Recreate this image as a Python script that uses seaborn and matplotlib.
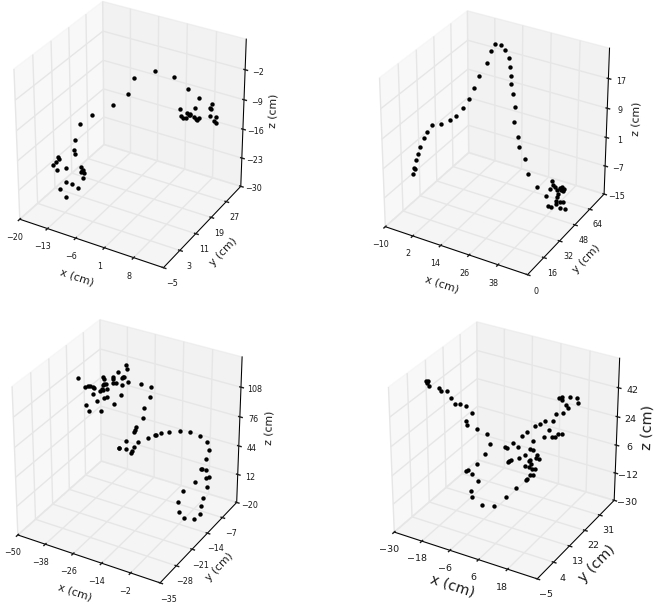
import matplotlib
matplotlib.use('Agg')
import matplotlib.pyplot as plt
import seaborn as sns

sns.set_theme()
plt.style.use('classic')
MARK = sns.color_palette(['#000000'])[0]

# Panel 1
x1 = [-18.1,-17.3,-16.6,-16.4,-17.0,-14.8,-11.0,-10.8,-10.6,-10.2,-11.0,-10.6,-14.8,-13.4,-11.7,-16.3,-14.8,-13.6,-13.8,-13.4,-14.3,-11.2,-8.7,-5.1,-6.1,-1.0,2.2,5.5,8.3,3.3,3.6,4.0,4.9,5.0,5.4,5.7,5.7,6.7,6.9,7.1,7.4,7.8,10.5,11.0,10.7,10.5,12.0,11.6,11.9]
y1 = [7]*17 + [9]*3 + [13]*2 + [18]*2 + [23]*2 + [26]*3 + [27]*20
z1 = [-21.9,-21.0,-19.5,-19.9,-22.8,-21.5,-20.1,-21.1,-20.8,-21.4,-21.4,-22.8,-24.9,-25.1,-25.4,-27.1,-28.6,-18.9,-17.8,-15.3,-13.6,-10.5,-9.6,-6.2,-4.8,-1.7,-3.5,-5.4,-6.6,-11.0,-12.7,-12.9,-12.8,-11.6,-11.9,-11.6,-11.9,-11.9,-9.9,-12.4,-12.4,-11.9,-8.7,-7.7,-8.9,-10.6,-10.6,-11.5,-11.9]
# Panel 2
x2 = [-1.0,-0.6,-0.3,0.5,1.3,2.4,4.0,5.2,3.6,7.5,11.3,14.0,11.4,14.0,16.1,18.3,21.2,17.6,19.5,21.9,23.6,25.3,25.7,26.2,25.9,27.0,27.7,27.4,27.2,27.8,30.3,31.7,35.4,40.0,40.7,41.3,39.2,42.4,43.6,44.4,45.1,44.9,43.8,42.7,42.2,37.7,41.9,42.1,43.5,44.7,38.5,40.0,43.5,45.6]
y2 = [8]*8 + [16]*4 + [28]*5 + [40]*11 + [44]*5 + [48]*21
z2 = [-0.8,1.0,0.8,3.5,5.2,7.4,9.9,11.9,11.4,12.5,14.2,15.6,14.3,17.2,20.4,23.9,27.7,27.5,29.7,29.9,28.8,27.1,24.9,22.7,20.4,18.2,14.8,10.7,5.8,3.1,0.4,-3.4,-6.4,-4.9,-5.9,-6.2,-7.3,-6.8,-5.9,-5.7,-6.0,-6.5,-6.5,-7.9,-8.9,-9.5,-10.0,-10.9,-9.9,-9.6,-12.2,-12.1,-11.6,-11.4]
# Panel 3
x3 = [-41.3,-38.7,-37.4,-36.2,-35.3,-34.8,-35.3,-38.2,-37.1,-33.3,-31.7,-32.0,-31.4,-30.9,-31.0,-30.6,-30.9,-30.3,-29.5,-29.0,-30.3,-29.1,-26.5,-26.6,-26.5,-25.3,-24.6,-22.9,-22.3,-21.9,-22.8,-21.2,-20.8,-20.4,-23.5,-26.4,-16.5,-12.4,-12.8,-15.1,-15.8,-18.5,-19.0,-19.5,-22.6,-25.9,-25.6,-22.6,-19.4,-20.2,-20.5,-17.5,-15.2,-12.5,-12.1,-10.0,-6.6,-4.0,0.2,4.2,7.2,8.0,7.0,4.9,5.2,6.8,7.1,8.4,6.1,11.2,1.5,9.5,-0.7,8.9,-0.4,8.6,2.0,6.1]
y3 = [-17.5]*36 + [-16]*16 + [-14]*5 + [-12]*11 + [-16]*10
z3 = [117.9,110.2,112.2,113.7,113.0,111.9,105.9,92.0,86.3,99.8,90.3,110.7,113.9,112.5,126.9,124.4,118.6,119.7,119.9,115.6,105.2,107.1,130.0,127.5,123.4,124.3,135.9,130.8,132.2,133.2,123.6,145.8,142.3,129.1,112.9,100.9,126.6,126.0,115.3,102.3,91.2,79.1,75.6,73.0,61.2,51.1,51.3,52.1,56.8,51.4,49.4,63.7,65.3,70.2,71.3,74.6,78.3,76.5,78.6,77.6,73.9,65.8,55.0,42.4,42.7,42.5,34.6,36.1,39.0,36.9,25.5,23.9,11.0,14.2,0.5,5.4,-4.2,-2.7]
# Panel 4
x4 = [-30.0,-29.1,-29.4,-28.7,-24.5,-23.8,-20.9,-19.4,-17.8,-15.5,-13.1,-8.2,-10.7,-10.5,-6.0,-2.0,-0.9,-2.9,-3.1,-7.8,-7.0,-5.4,-2.9,-5.6,-5.4,-1.3,3.9,8.9,13.0,9.6,10.1,11.1,12.5,12.2,13.4,10.9,9.1,11.7,10.8,11.2,9.1,6.6,3.3,2.6,1.9,14.2,14.7,13.6,12.4,11.1,6.2,0.9,1.5,4.1,3.3,5.5,7.9,8.5,10.7,12.9,15.9,14.3,12.6,15.6,16.8,18.0,19.9,11.5,14.4,16.4,15.4,14.0,12.8,13.9,17.1,19.9,20.5]
y4 = [13]*11 + [10]*7 + [6]*11 + [16]*25 + [22]*13 + [30]*10
z4 = [47.1,47.6,45.9,44.3,45.2,43.4,44.4,40.9,37.7,39.0,38.8,39.2,33.0,30.7,30.3,29.2,23.5,16.2,14.0,7.6,8.5,7.0,3.5,-4.3,-7.7,-11.0,-8.9,-1.3,6.6,-0.9,-0.0,3.4,4.0,7.2,7.8,8.3,7.7,10.6,11.8,12.8,14.8,11.6,8.9,8.2,7.2,17.0,14.8,14.7,19.1,19.4,18.7,16.0,16.1,20.3,18.0,21.8,17.2,26.8,29.0,31.6,32.8,26.6,21.3,23.0,23.5,25.9,26.7,27.6,29.4,33.4,35.0,37.3,38.3,39.3,40.6,40.7,37.9]

xticks = [[-20,-13,-6,1,8],[-10,2,14,26,38],[-50,-38,-26,-14,-2],[-30,-18,-6,6,18]]
yticks = [[-5,3,11,19,27],[0,16,32,48,64],[-35,-28,-21,-14,-7],[-5,4,13,22,31]]
zticks = [[-30,-23,-16,-9,-2],[-15,-7,1,9,17],[-20,12,44,76,108],[-30,-12,6,24,42]]
limits = [[(-20,15),(-5,35),(-30,5)],[(-10,50),(0,80),(-15,25)],[(-50,10),(-35,0),(-20,140)],[(-30,30),(-5,40),(-30,60)]]
# left, top, width, height in pixels
rects = [(-25.5,-24.5,306.7,317.6),(340.5,-14.9,303.6,314.8),(-27.0,294.0,303.7,314.0),(349.2,296.8,305.2,306.6)]
tick_sizes = [5.8,5.8,5.8,6.8]
label_sizes = [7.8,7.8,7.8,10.3]
xpads = [-3.5,-3.5,-3.5,-5]
W, H = 664, 610

fig = plt.figure(figsize=(W/100, H/100), dpi=100, facecolor='white')
series = [(x1,y1,z1),(x2,y2,z2),(x3,y3,z3),(x4,y4,z4)]
for i,(xs,ys,zs) in enumerate(series):
    l,t,w,h = rects[i]
    ax = fig.add_axes([l/W, 1-(t+h)/H, w/W, h/H], projection='3d')
    ax.set_box_aspect((1,1,1), zoom=1/1.10027)
    ax.apply_aspect = lambda position=None: None
    ax.view_init(30,-60)
    ax.scatter(xs, ys, zs, color=MARK, s=10, depthshade=False, linewidths=0)
    ax.set_xticks(xticks[i]); ax.set_yticks(yticks[i]); ax.set_zticks(zticks[i])
    ax.set_xlim(*limits[i][0]); ax.set_ylim(*limits[i][1]); ax.set_zlim(*limits[i][2])
    ax.tick_params(labelsize=tick_sizes[i], pad=-1)
    ax.set_xlabel('x (cm)', fontsize=label_sizes[i], labelpad=xpads[i])
    ax.set_ylabel('y (cm)', fontsize=label_sizes[i], labelpad=-5)
    ax.set_zlabel('z (cm)', fontsize=label_sizes[i], labelpad=-5)
fig.savefig('out.png', dpi=100)
